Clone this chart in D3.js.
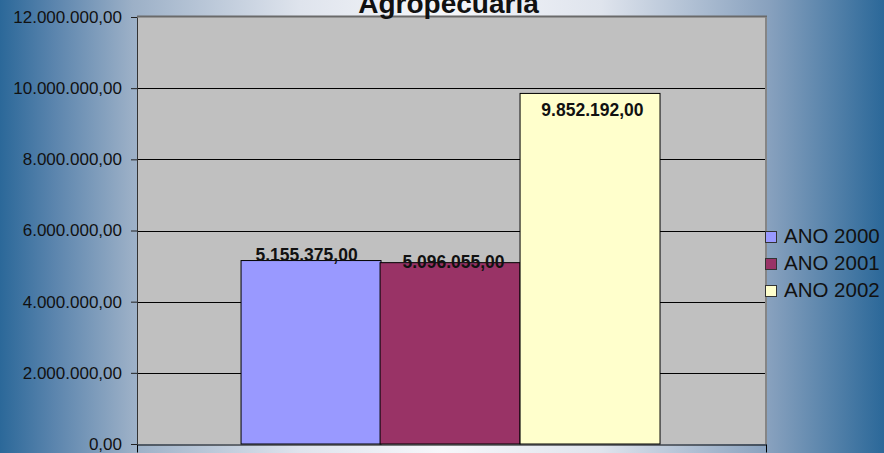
<!DOCTYPE html>
<html>
<head>
  <style>
  body {
    margin: 0;
    overflow: hidden;
  }
  svg {
    display: block;
    font-family: Arial, "Liberation Sans", sans-serif;
  }
  .y.axis .domain {
    stroke: #333;
  }
  .y.axis .tick line {
    stroke: #222;
  }
  .y.axis .tick text {
    font-size: 17px;
    fill: #111;
  }
  .grid line {
    stroke: #000;
  }
  .bar-label {
    font-size: 17.5px;
    font-weight: bold;
    fill: #111;
  }
  .legend text {
    font-size: 20.5px;
    fill: #111;
  }
  </style>
</head>
<body>
  <div id="chart"></div>
  <script src="https://d3js.org/d3.v7.min.js"></script>
  <script>
  var title = "Agropecuaria";
  var categories = ["Agropecuaria"];
  var series = ["ANO 2000", "ANO 2001", "ANO 2002"];
  var values = [5155375.00, 5096055.00, 9852192.00];
  var colors = ["#9999ff", "#993366", "#ffffcc"];
  var yTicks = [0, 2000000, 4000000, 6000000, 8000000, 10000000, 12000000];

  var width = 884, height = 453;
  var margin = {top: 17, right: 118, bottom: 9, left: 137};

  var locale = d3.formatLocale({decimal: ",", thousands: ".", grouping: [3], currency: ["R$", ""]});
  var fmt = locale.format(",.2f");

  var svg = d3.select("#chart").append("svg")
      .attr("width", width)
      .attr("height", height);

  // background: blue at the edges, light in the middle
  var defs = svg.append("defs");
  var bg = defs.append("linearGradient").attr("id", "bg");
  [[0, "#2b6899"], [0.06, "#5a84ad"], [0.15, "#9cb0c7"], [0.34, "#dfe4ed"], [0.5, "#f6f7fa"],
   [0.68, "#dfe4ed"], [0.87, "#88a1be"], [1, "#2b6899"]].forEach(function(s) {
    bg.append("stop").attr("offset", s[0] * 100 + "%").attr("stop-color", s[1]);
  });
  svg.append("rect")
      .attr("width", width)
      .attr("height", height)
      .style("fill", "url(#bg)");

  var x0 = d3.scaleBand()
      .domain(categories)
      .range([margin.left, width - margin.right])
      .paddingInner(0)
      .paddingOuter(0.249);

  var x1 = d3.scaleBand()
      .domain(series)
      .range([0, x0.bandwidth()]);

  var y = d3.scaleLinear()
      .domain([0, 12000000])
      .range([height - margin.bottom, margin.top]);

  var plotW = width - margin.right - margin.left;

  // plot area
  svg.append("rect")
      .attr("x", margin.left)
      .attr("y", y(12000000))
      .attr("width", plotW)
      .attr("height", y(0) - y(12000000))
      .style("fill", "#c0c0c0");

  svg.append("g")
      .attr("class", "grid")
    .selectAll("line")
      .data(yTicks.filter(function(d){ return d > 0 && d < 12000000; }))
    .enter().append("line")
      .attr("x1", margin.left)
      .attr("x2", width - margin.right)
      .attr("y1", function(d){ return Math.round(y(d)) + 0.5; })
      .attr("y2", function(d){ return Math.round(y(d)) + 0.5; });

  // top and right border
  svg.append("line")
      .attr("x1", margin.left).attr("x2", width - margin.right + 1)
      .attr("y1", y(12000000) - 0.5).attr("y2", y(12000000) - 0.5)
      .style("stroke", "#6a6a6a").style("stroke-width", 2);
  svg.append("line")
      .attr("x1", width - margin.right).attr("x2", width - margin.right)
      .attr("y1", y(12000000)).attr("y2", y(0))
      .style("stroke", "#858585").style("stroke-width", 2);

  // bars
  var group = svg.append("g")
      .attr("transform", "translate(" + x0(categories[0]) + ",0)");

  group.selectAll("rect")
      .data(values)
    .enter().append("rect")
      .attr("x", function(d, i){ return Math.floor(x1(series[i])) - 0.5; })
      .attr("y", function(d){ return y(d); })
      .attr("width", x1.bandwidth())
      .attr("height", function(d){ return y(0) - y(d); })
      .style("fill", function(d, i){ return colors[i]; })
      .style("stroke", "#000")
      .style("stroke-width", 1);

  // excel puts the labels a bit irregularly
  var labelDy = [0, 5, 23];
  var labelDx = [-5, 2, 1];

  group.selectAll(".bar-label")
      .data(values)
    .enter().append("text")
      .attr("class", "bar-label")
      .attr("x", function(d, i){ return x1(series[i]) + x1.bandwidth() / 2 + labelDx[i]; })
      .attr("y", function(d, i){ return y(d) + labelDy[i]; })
      .attr("text-anchor", "middle")
      .text(function(d){ return fmt(d); });

  // axes
  svg.append("g")
      .attr("class", "y axis")
      .attr("transform", "translate(" + margin.left + ",0)")
      .call(d3.axisLeft(y).tickValues(yTicks).tickFormat(fmt).tickSize(6).tickSizeOuter(0).tickPadding(9));

  var xEdge = d3.scaleLinear().domain([0, 1]).range([margin.left, width - margin.right]);
  var xAxis = svg.append("g")
      .attr("class", "x axis")
      .attr("transform", "translate(0," + (y(0) + 0.5) + ")")
      .call(d3.axisBottom(xEdge).tickValues([0, 1]).tickFormat("").tickSize(8).tickSizeOuter(0));
  xAxis.selectAll("line, path").style("stroke", "#000");
  svg.select(".y.axis").raise();

  // title
  svg.append("text")
      .attr("x", x0(categories[0]) + x0.bandwidth() / 2 - 3)
      .attr("y", 13)
      .attr("text-anchor", "middle")
      .style("font-size", "28px")
      .style("font-weight", "bold")
      .style("fill", "#111")
      .text(title);

  // legend
  var legend = svg.append("g")
      .attr("class", "legend")
      .attr("transform", "translate(765.5,231.5)");

  var item = legend.selectAll("g")
      .data(series)
    .enter().append("g")
      .attr("transform", function(d, i){ return "translate(0," + (i * 27) + ")"; });

  item.append("rect")
      .attr("width", 11)
      .attr("height", 11)
      .style("fill", function(d, i){ return colors[i]; })
      .style("stroke", "#333");

  item.append("text")
      .attr("x", 18.5)
      .attr("y", 11)
      .text(function(d){ return d; });
  </script>
</body>
</html>
